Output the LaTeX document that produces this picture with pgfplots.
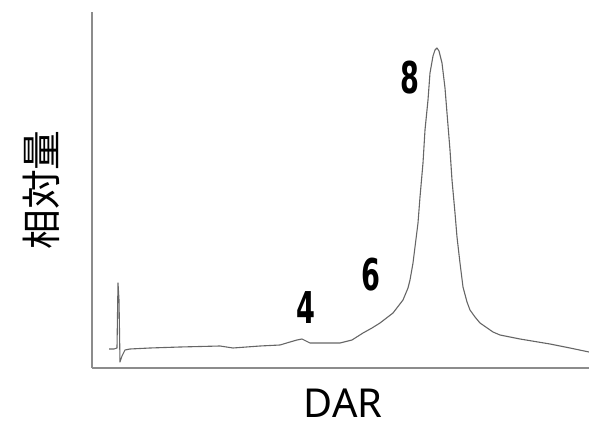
\documentclass[border=0pt]{standalone}
\usepackage{fontspec}
\setmainfont{Noto Sans}
\newfontfamily\cjk{Noto Sans CJK JP}
\newfontfamily\dig{DejaVu Sans}
\usepackage{pgfplots}
\pgfplotsset{compat=1.18}
\begin{document}
\begin{tikzpicture}
\useasboundingbox (-92bp,-56bp) rectangle (497bp,368bp);
\begin{axis}[
  anchor=origin, at={(0,0)},
  x=1bp, y=1bp,
  xmin=92, xmax=589, ymin=0, ymax=356,
  axis lines*=left,
  axis line style={draw=black!45, line width=1.6bp},
  xtick=\empty, ytick=\empty,
  clip=false,
]
\addplot[color=black!60, line width=1.1bp, line join=round] coordinates {
(109,19)(114,19)(117,20)(118,85)(119,68)(120,6)(122,12)(125,18)(130,19)(150,20)(180,21)(220,22)(233,20)(260,22)(280,23)(290,26)(297,28)(302,29)(306,27)(310,25)(320,25)(340,25)(352,28)(363,35)(372,40)(380,45)(393,55)(403,68)(408,80)(410,88)(413,105)(415,121)(418,145)(420,171)(423,205)(425,238)(428,268)(430,295)(433,312)(435,318)(437,320)(439,317)(442,305)(445,280)(447,255)(450,218)(452,188)(455,155)(457,131)(460,105)(463,81)(467,66)(470,58)(475,51)(480,45)(493,36)(500,33)(520,29)(550,24)(570,20)(589,16)
};
\node at (axis cs:306,60) {\scalebox{0.62}[1]{\dig\bfseries\fontsize{44}{44}\selectfont 4}};
\node at (axis cs:371,93) {\scalebox{0.62}[1]{\dig\bfseries\fontsize{44}{44}\selectfont 6}};
\node at (axis cs:410,290) {\scalebox{0.62}[1]{\dig\bfseries\fontsize{44}{44}\selectfont 8}};
\end{axis}
\node[anchor=base, inner sep=0pt] at (251bp,-49bp) {\fontsize{40}{40}\selectfont DAR};
\node[rotate=90] at (-51bp,178bp) {\cjk\fontsize{40}{40}\selectfont 相対量};
\end{tikzpicture}
\end{document}
